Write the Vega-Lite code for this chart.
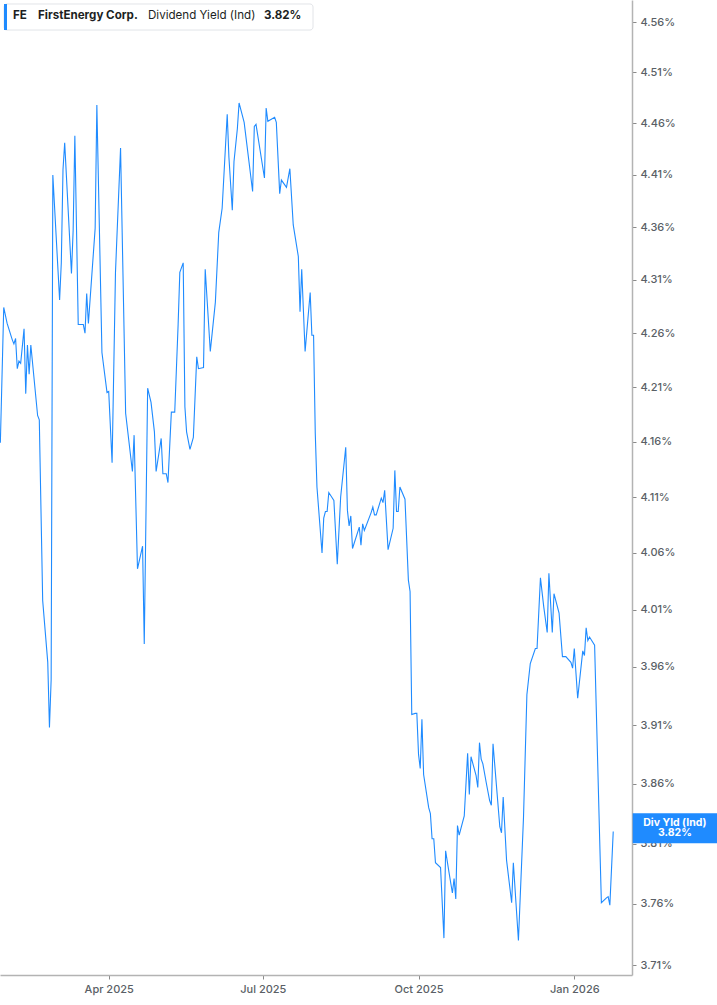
{
  "$schema": "https://vega.github.io/schema/vega-lite/v6.json",
  "width": 632,
  "height": 975,
  "autosize": "none",
  "padding": {"left": 0, "top": 0, "right": 85, "bottom": 30},
  "background": "white",
  "config": {"view": {"stroke": null}, "font": "Inter"},
  "layer": [
    {
      "data": {
        "values": [
          {"date": "2025-01-27", "value": 4.159}, {"date": "2025-01-29", "value": 4.284}, {"date": "2025-01-31", "value": 4.269},
          {"date": "2025-02-03", "value": 4.254}, {"date": "2025-02-04", "value": 4.250}, {"date": "2025-02-05", "value": 4.255},
          {"date": "2025-02-06", "value": 4.227}, {"date": "2025-02-07", "value": 4.234}, {"date": "2025-02-08", "value": 4.232},
          {"date": "2025-02-10", "value": 4.264}, {"date": "2025-02-11", "value": 4.204}, {"date": "2025-02-12", "value": 4.249},
          {"date": "2025-02-13", "value": 4.222}, {"date": "2025-02-14", "value": 4.249}, {"date": "2025-02-18", "value": 4.184},
          {"date": "2025-02-19", "value": 4.180}, {"date": "2025-02-21", "value": 4.018}, {"date": "2025-02-24", "value": 3.964},
          {"date": "2025-02-25", "value": 3.908}, {"date": "2025-02-26", "value": 3.949}, {"date": "2025-02-27", "value": 4.410},
          {"date": "2025-03-03", "value": 4.291}, {"date": "2025-03-04", "value": 4.326}, {"date": "2025-03-05", "value": 4.415},
          {"date": "2025-03-06", "value": 4.441}, {"date": "2025-03-10", "value": 4.316}, {"date": "2025-03-11", "value": 4.357},
          {"date": "2025-03-12", "value": 4.448}, {"date": "2025-03-14", "value": 4.268}, {"date": "2025-03-17", "value": 4.268},
          {"date": "2025-03-18", "value": 4.260}, {"date": "2025-03-19", "value": 4.297}, {"date": "2025-03-20", "value": 4.269},
          {"date": "2025-03-24", "value": 4.359}, {"date": "2025-03-25", "value": 4.478}, {"date": "2025-03-28", "value": 4.242},
          {"date": "2025-03-31", "value": 4.205}, {"date": "2025-04-01", "value": 4.206}, {"date": "2025-04-03", "value": 4.141},
          {"date": "2025-04-05", "value": 4.317}, {"date": "2025-04-08", "value": 4.436}, {"date": "2025-04-11", "value": 4.186},
          {"date": "2025-04-15", "value": 4.133}, {"date": "2025-04-16", "value": 4.166}, {"date": "2025-04-18", "value": 4.046},
          {"date": "2025-04-21", "value": 4.066}, {"date": "2025-04-22", "value": 3.980}, {"date": "2025-04-24", "value": 4.209},
          {"date": "2025-04-26", "value": 4.196}, {"date": "2025-04-28", "value": 4.169}, {"date": "2025-04-29", "value": 4.133},
          {"date": "2025-05-02", "value": 4.163}, {"date": "2025-05-03", "value": 4.131}, {"date": "2025-05-05", "value": 4.131},
          {"date": "2025-05-06", "value": 4.123}, {"date": "2025-05-08", "value": 4.187}, {"date": "2025-05-10", "value": 4.187},
          {"date": "2025-05-12", "value": 4.268}, {"date": "2025-05-13", "value": 4.317}, {"date": "2025-05-15", "value": 4.326},
          {"date": "2025-05-16", "value": 4.192}, {"date": "2025-05-17", "value": 4.169}, {"date": "2025-05-19", "value": 4.153},
          {"date": "2025-05-21", "value": 4.164}, {"date": "2025-05-23", "value": 4.238}, {"date": "2025-05-24", "value": 4.227},
          {"date": "2025-05-27", "value": 4.228}, {"date": "2025-05-28", "value": 4.320}, {"date": "2025-05-31", "value": 4.243},
          {"date": "2025-06-03", "value": 4.289}, {"date": "2025-06-05", "value": 4.355}, {"date": "2025-06-07", "value": 4.378},
          {"date": "2025-06-10", "value": 4.469}, {"date": "2025-06-11", "value": 4.427}, {"date": "2025-06-13", "value": 4.376},
          {"date": "2025-06-14", "value": 4.423}, {"date": "2025-06-16", "value": 4.455}, {"date": "2025-06-17", "value": 4.480},
          {"date": "2025-06-20", "value": 4.461}, {"date": "2025-06-25", "value": 4.394}, {"date": "2025-06-26", "value": 4.457},
          {"date": "2025-06-27", "value": 4.459}, {"date": "2025-07-02", "value": 4.407}, {"date": "2025-07-03", "value": 4.475},
          {"date": "2025-07-04", "value": 4.462}, {"date": "2025-07-08", "value": 4.466}, {"date": "2025-07-09", "value": 4.461},
          {"date": "2025-07-11", "value": 4.392}, {"date": "2025-07-12", "value": 4.405}, {"date": "2025-07-15", "value": 4.398},
          {"date": "2025-07-17", "value": 4.416}, {"date": "2025-07-19", "value": 4.362}, {"date": "2025-07-22", "value": 4.332},
          {"date": "2025-07-23", "value": 4.280}, {"date": "2025-07-24", "value": 4.320}, {"date": "2025-07-26", "value": 4.243},
          {"date": "2025-07-29", "value": 4.298}, {"date": "2025-07-30", "value": 4.258}, {"date": "2025-07-31", "value": 4.258},
          {"date": "2025-08-01", "value": 4.168}, {"date": "2025-08-02", "value": 4.119}, {"date": "2025-08-05", "value": 4.060},
          {"date": "2025-08-06", "value": 4.091}, {"date": "2025-08-07", "value": 4.097}, {"date": "2025-08-08", "value": 4.097},
          {"date": "2025-08-09", "value": 4.114}, {"date": "2025-08-12", "value": 4.107}, {"date": "2025-08-14", "value": 4.050},
          {"date": "2025-08-16", "value": 4.110}, {"date": "2025-08-19", "value": 4.155}, {"date": "2025-08-20", "value": 4.098},
          {"date": "2025-08-21", "value": 4.084}, {"date": "2025-08-22", "value": 4.093}, {"date": "2025-08-23", "value": 4.064},
          {"date": "2025-08-27", "value": 4.083}, {"date": "2025-08-28", "value": 4.067}, {"date": "2025-08-29", "value": 4.086},
          {"date": "2025-08-30", "value": 4.080}, {"date": "2025-09-03", "value": 4.096}, {"date": "2025-09-04", "value": 4.101},
          {"date": "2025-09-05", "value": 4.094}, {"date": "2025-09-06", "value": 4.094}, {"date": "2025-09-09", "value": 4.109},
          {"date": "2025-09-10", "value": 4.105}, {"date": "2025-09-11", "value": 4.116}, {"date": "2025-09-13", "value": 4.063},
          {"date": "2025-09-16", "value": 4.082}, {"date": "2025-09-17", "value": 4.134}, {"date": "2025-09-18", "value": 4.097},
          {"date": "2025-09-19", "value": 4.097}, {"date": "2025-09-20", "value": 4.119}, {"date": "2025-09-23", "value": 4.108},
          {"date": "2025-09-25", "value": 4.036}, {"date": "2025-09-26", "value": 4.026}, {"date": "2025-09-27", "value": 3.919},
          {"date": "2025-09-29", "value": 3.920}, {"date": "2025-09-30", "value": 3.920}, {"date": "2025-10-01", "value": 3.885},
          {"date": "2025-10-02", "value": 3.873}, {"date": "2025-10-03", "value": 3.915}, {"date": "2025-10-04", "value": 3.868},
          {"date": "2025-10-07", "value": 3.840}, {"date": "2025-10-08", "value": 3.835}, {"date": "2025-10-09", "value": 3.814},
          {"date": "2025-10-10", "value": 3.814}, {"date": "2025-10-11", "value": 3.794}, {"date": "2025-10-14", "value": 3.790},
          {"date": "2025-10-16", "value": 3.732}, {"date": "2025-10-17", "value": 3.804}, {"date": "2025-10-19", "value": 3.786},
          {"date": "2025-10-21", "value": 3.769}, {"date": "2025-10-22", "value": 3.781}, {"date": "2025-10-23", "value": 3.764},
          {"date": "2025-10-24", "value": 3.825}, {"date": "2025-10-25", "value": 3.817}, {"date": "2025-10-28", "value": 3.833},
          {"date": "2025-10-30", "value": 3.886}, {"date": "2025-10-31", "value": 3.851}, {"date": "2025-11-01", "value": 3.883},
          {"date": "2025-11-04", "value": 3.867}, {"date": "2025-11-05", "value": 3.857}, {"date": "2025-11-06", "value": 3.895},
          {"date": "2025-11-07", "value": 3.881}, {"date": "2025-11-08", "value": 3.877}, {"date": "2025-11-10", "value": 3.861},
          {"date": "2025-11-12", "value": 3.846}, {"date": "2025-11-13", "value": 3.842}, {"date": "2025-11-14", "value": 3.894},
          {"date": "2025-11-18", "value": 3.824}, {"date": "2025-11-19", "value": 3.819}, {"date": "2025-11-20", "value": 3.849},
          {"date": "2025-11-22", "value": 3.796}, {"date": "2025-11-25", "value": 3.761}, {"date": "2025-11-26", "value": 3.794},
          {"date": "2025-11-29", "value": 3.730}, {"date": "2025-12-02", "value": 3.832}, {"date": "2025-12-04", "value": 3.936},
          {"date": "2025-12-06", "value": 3.963}, {"date": "2025-12-09", "value": 3.976}, {"date": "2025-12-10", "value": 3.976},
          {"date": "2025-12-12", "value": 4.038}, {"date": "2025-12-14", "value": 4.012}, {"date": "2025-12-16", "value": 3.990},
          {"date": "2025-12-17", "value": 4.042}, {"date": "2025-12-19", "value": 3.990}, {"date": "2025-12-20", "value": 4.024},
          {"date": "2025-12-23", "value": 4.007}, {"date": "2025-12-25", "value": 3.969}, {"date": "2025-12-27", "value": 3.969},
          {"date": "2025-12-30", "value": 3.964}, {"date": "2025-12-31", "value": 3.959}, {"date": "2026-01-01", "value": 3.976},
          {"date": "2026-01-03", "value": 3.933}, {"date": "2026-01-06", "value": 3.974}, {"date": "2026-01-07", "value": 3.970},
          {"date": "2026-01-08", "value": 3.994}, {"date": "2026-01-09", "value": 3.983}, {"date": "2026-01-10", "value": 3.986},
          {"date": "2026-01-13", "value": 3.979}, {"date": "2026-01-14", "value": 3.923}, {"date": "2026-01-16", "value": 3.813},
          {"date": "2026-01-17", "value": 3.761}, {"date": "2026-01-20", "value": 3.765}, {"date": "2026-01-21", "value": 3.766},
          {"date": "2026-01-22", "value": 3.759}, {"date": "2026-01-24", "value": 3.820}
        ],
        "format": {"parse": {"date": "date:'%Y-%m-%d'"}}
      },
      "mark": {"type": "line", "color": "#1f8bff", "strokeWidth": 1.1},
      "encoding": {
        "x": {
          "field": "date",
          "type": "temporal",
          "scale": {
            "domain": [
              {"year": 2025, "month": 1, "date": 26, "hours": 19},
              {"year": 2026, "month": 2, "date": 4, "hours": 2}
            ]
          },
          "axis": {
            "orient": "bottom",
            "title": null,
            "grid": false,
            "values": [
              {"year": 2025, "month": 4, "date": 1},
              {"year": 2025, "month": 7, "date": 1},
              {"year": 2025, "month": 10, "date": 1},
              {"year": 2026, "month": 1, "date": 1}
            ],
            "labelExpr": "timeFormat(datum.value, '%b %Y')",
            "domainColor": "#b3b3b3",
            "domainWidth": 1.5,
            "tickColor": "#8a8a8a",
            "tickSize": 4,
            "labelPadding": 4,
            "labelFontSize": 11,
            "labelFontWeight": 500,
            "labelColor": "#5a5f66",
            "labelFlush": false,
            "labelOverlap": false
          }
        },
        "y": {
          "field": "value",
          "type": "quantitative",
          "scale": {"type": "log", "domain": [3.702, 4.582], "nice": false, "zero": false},
          "axis": {
            "orient": "right",
            "title": null,
            "grid": false,
            "values": [3.71, 3.76, 3.81, 3.86, 3.91, 3.96, 4.01, 4.06, 4.11, 4.16, 4.21, 4.26, 4.31, 4.36, 4.41, 4.46, 4.51, 4.56],
            "labelExpr": "format(datum.value, '.2f') + '%'",
            "domainColor": "#b3b3b3",
            "domainWidth": 1.5,
            "tickColor": "#8a8a8a",
            "tickSize": 4,
            "labelPadding": 4,
            "labelFontSize": 11,
            "labelFontWeight": 500,
            "labelColor": "#5a5f66",
            "labelFlush": false,
            "labelOverlap": false
          }
        }
      }
    },
    {
      "data": {"values": [{"box": "header"}]},
      "mark": {"type": "rect", "fill": "white", "stroke": "#e2e4e8", "strokeWidth": 1, "cornerRadius": 3},
      "encoding": {
        "x": {"datum": {"year": 2025, "month": 1, "date": 29, "hours": 4}, "type": "temporal"},
        "x2": {"datum": {"year": 2025, "month": 7, "date": 30, "hours": 16}},
        "y": {"datum": 4.578, "type": "quantitative"},
        "y2": {"datum": 4.552}
      }
    },
    {
      "data": {"values": [{"box": "marker"}]},
      "mark": {"type": "rect", "fill": "#1f8bff"},
      "encoding": {
        "x": {"datum": {"year": 2025, "month": 1, "date": 29, "hours": 4}, "type": "temporal"},
        "x2": {"datum": {"year": 2025, "month": 1, "date": 30, "hours": 22}},
        "y": {"datum": 4.578, "type": "quantitative"},
        "y2": {"datum": 4.552}
      }
    },
    {
      "data": {"values": [{"label": "FE"}]},
      "mark": {"type": "text", "align": "left", "baseline": "middle", "fontSize": 11.6, "fontWeight": 700, "color": "#1d1f23"},
      "encoding": {
        "x": {"datum": {"year": 2025, "month": 2, "date": 3, "hours": 11}, "type": "temporal"},
        "y": {"datum": 4.5655, "type": "quantitative"},
        "text": {"field": "label"}
      }
    },
    {
      "data": {"values": [{"label": "FirstEnergy Corp."}]},
      "mark": {"type": "text", "align": "left", "baseline": "middle", "fontSize": 11.6, "fontWeight": 700, "color": "#1d1f23"},
      "encoding": {
        "x": {"datum": {"year": 2025, "month": 2, "date": 18, "hours": 6}, "type": "temporal"},
        "y": {"datum": 4.5655, "type": "quantitative"},
        "text": {"field": "label"}
      }
    },
    {
      "data": {"values": [{"label": "Dividend Yield (Ind)"}]},
      "mark": {"type": "text", "align": "left", "baseline": "middle", "fontSize": 11.6, "fontWeight": 400, "color": "#1d1f23"},
      "encoding": {
        "x": {"datum": {"year": 2025, "month": 4, "date": 24, "hours": 5}, "type": "temporal"},
        "y": {"datum": 4.5655, "type": "quantitative"},
        "text": {"field": "label"}
      }
    },
    {
      "data": {"values": [{"label": "3.82%"}]},
      "mark": {"type": "text", "align": "left", "baseline": "middle", "fontSize": 11.6, "fontWeight": 700, "color": "#1d1f23"},
      "encoding": {
        "x": {"datum": {"year": 2025, "month": 7, "date": 1, "hours": 17}, "type": "temporal"},
        "y": {"datum": 4.5655, "type": "quantitative"},
        "text": {"field": "label"}
      }
    },
    {
      "data": {"values": [{"box": "badge"}]},
      "mark": {"type": "rect", "fill": "#1f8bff"},
      "encoding": {
        "x": {"datum": {"year": 2026, "month": 2, "date": 4, "hours": 12}, "type": "temporal"},
        "x2": {"datum": {"year": 2026, "month": 3, "date": 30}},
        "y": {"datum": 3.8354, "type": "quantitative"},
        "y2": {"datum": 3.8102}
      }
    },
    {
      "data": {"values": [{"label": "Div Yld (Ind)"}]},
      "mark": {"type": "text", "align": "center", "baseline": "middle", "fontSize": 10.5, "fontWeight": 700, "color": "white"},
      "encoding": {
        "x": {"datum": {"year": 2026, "month": 3, "date": 1, "hours": 10}, "type": "temporal"},
        "y": {"datum": 3.8274, "type": "quantitative"},
        "text": {"field": "label"}
      }
    },
    {
      "data": {"values": [{"label": "3.82%"}]},
      "mark": {"type": "text", "align": "center", "baseline": "middle", "fontSize": 10.5, "fontWeight": 700, "color": "white"},
      "encoding": {
        "x": {"datum": {"year": 2026, "month": 3, "date": 1, "hours": 10}, "type": "temporal"},
        "y": {"datum": 3.8186, "type": "quantitative"},
        "text": {"field": "label"}
      }
    }
  ]
}
